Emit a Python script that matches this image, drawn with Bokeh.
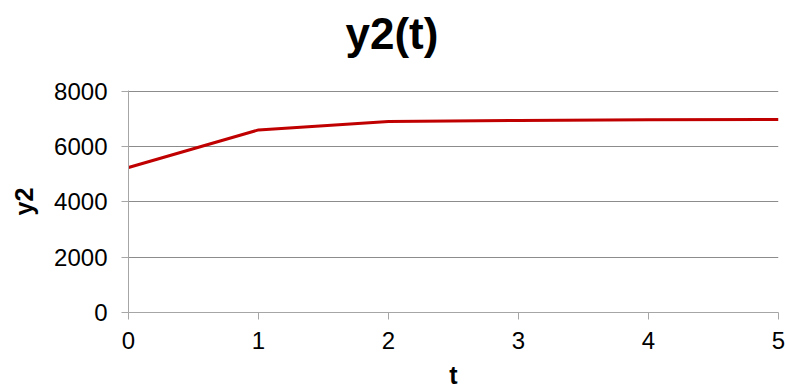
from bokeh.plotting import figure
from bokeh.models import Range1d, FixedTicker, Title
from bokeh.embed import file_html
from bokeh.resources import INLINE

# time steps and the y2 response
t = [0, 1, 2, 3, 4, 5]
y2 = [5250, 6610, 6910, 6950, 6975, 6990]
y_ticks = [0, 2000, 4000, 6000, 8000]
x_ticks = [0, 1, 2, 3, 4, 5]

FONT = "Liberation Sans"

p = figure(
    width=785, height=391,
    output_backend="svg", toolbar_location=None,
    # a little headroom so the 8000 grid line is not clipped at the frame edge
    x_range=Range1d(0, 5), y_range=Range1d(0, 8036),
    min_border_left=128, min_border_right=7,
    min_border_top=90, min_border_bottom=79,
    title="y2(t)",
)
p.outline_line_color = None
p.background_fill_color = "white"
p.border_fill_color = "white"

p.title.text_font = FONT
p.title.text_font_size = "44px"
p.title.text_font_style = "bold"
p.title.text_color = "black"
p.title.align = "left"
p.title.offset = 217
p.title.standoff = 4

# blank band between the title and the plot area, lifting the title up
p.add_layout(Title(text=" ", text_font_size="12px", standoff=15), "above")

p.line(t, y2, line_color="#C00000", line_width=3)

p.xgrid.visible = False
p.ygrid.grid_line_color = "#8c8c8c"
p.ygrid.grid_line_width = 1

for ax in (p.xaxis[0], p.yaxis[0]):
    ax.axis_line_color = "#a6a6a6"
    ax.major_tick_line_color = "#a6a6a6"
    ax.minor_tick_line_color = None
    ax.major_tick_in = 0
    ax.major_tick_out = 7
    ax.major_label_text_font = FONT
    ax.major_label_text_font_size = "24px"
    ax.major_label_text_color = "black"
    ax.axis_label_text_font = FONT
    ax.axis_label_text_font_size = "25px"
    ax.axis_label_text_font_style = "bold"
    ax.axis_label_text_color = "black"

p.xaxis[0].ticker = FixedTicker(ticks=x_ticks)
p.yaxis[0].ticker = FixedTicker(ticks=y_ticks)
p.xaxis[0].axis_label = "t"
p.yaxis[0].axis_label = "y2"
p.xaxis[0].major_label_standoff = 12
p.yaxis[0].major_label_standoff = 14
p.xaxis[0].axis_label_standoff = 9
p.yaxis[0].axis_label_standoff = 13

open("out.html", "w").write(file_html(p, INLINE))
